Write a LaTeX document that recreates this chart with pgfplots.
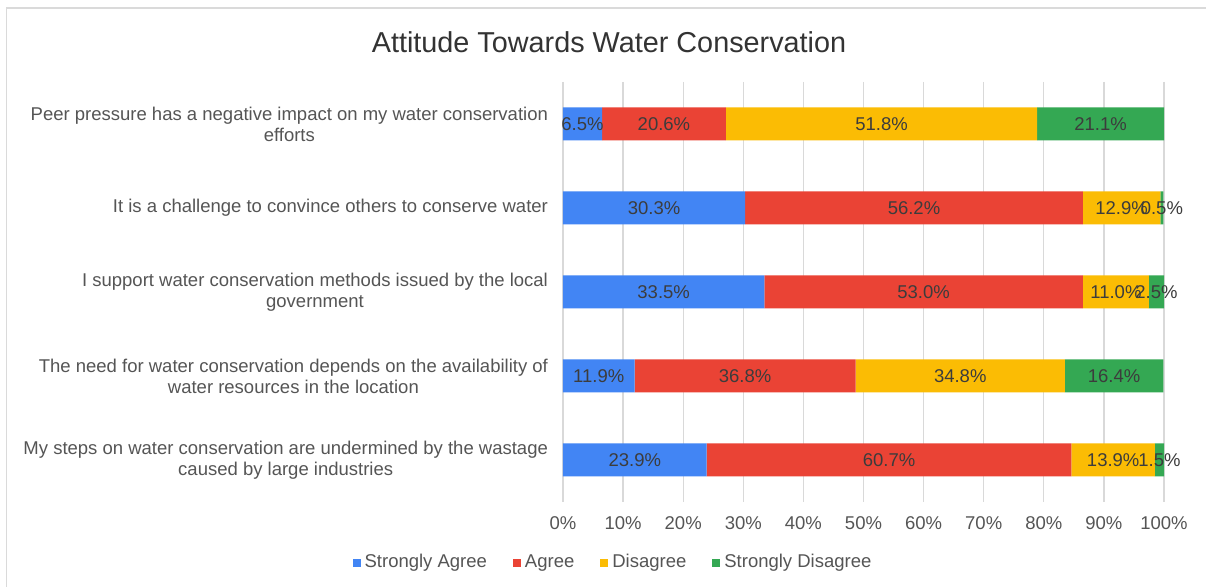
\documentclass[border=0pt]{standalone}
\usepackage{pgfplots}
\pgfplotsset{compat=1.18}
\usepackage{fontspec}
\setmainfont{Liberation Sans}
\definecolor{cSA}{HTML}{4285F4}
\definecolor{cA}{HTML}{EA4335}
\definecolor{cD}{HTML}{FBBC04}
\definecolor{cSD}{HTML}{34A853}
\definecolor{gridc}{HTML}{D9D9D9}
\definecolor{framec}{HTML}{DADADA}
\definecolor{titlec}{HTML}{333333}
\definecolor{labc}{HTML}{555555}
\definecolor{valc}{HTML}{3C3C3C}
\begin{document}
\begin{tikzpicture}
\useasboundingbox (0,0) rectangle (603pt,293.5pt);
\fill[white] (0,0) rectangle (603pt,293.5pt);
\draw[framec, line width=0.75pt] (3.2pt,0) -- (3.2pt,289.5pt) -- (603pt,289.5pt);
\node[font=\fontsize{14.4pt}{17pt}\selectfont, text=titlec] at (304.5pt,272.5pt) {Attitude Towards Water Conservation};
\begin{axis}[
  at={(281.5pt,42.5pt)}, anchor=south west,
  width=300.5pt, height=210pt, scale only axis,
  xbar stacked, bar width=16.5pt,
  xmin=0, xmax=100, ymin=-0.5, ymax=4.5, y dir=reverse,
  ytick={0,1,2,3,4},
  yticklabels={{Peer pressure has a negative impact on my water conservation\\efforts},
    {It is a challenge to convince others to conserve water},
    {I support water conservation methods issued by the local\\government},
    {The need for water conservation depends on the availability of\\water resources in the location},
    {My steps on water conservation are undermined by the wastage\\caused by large industries}},
  yticklabel style={align=center, font=\fontsize{9.25pt}{10.5pt}\selectfont, text=labc, xshift=-4pt},
  xtick={0,10,...,100},
  xticklabels={0\%,10\%,20\%,30\%,40\%,50\%,60\%,70\%,80\%,90\%,100\%},
  xticklabel style={font=\fontsize{9.25pt}{11pt}\selectfont, text=labc, yshift=-4pt},
  major tick length=0pt,
  axis line style={draw=none},
  xmajorgrids, major grid style={gridc, line width=0.6pt},
  point meta=rawx,
  /pgf/number format/assume math mode=true,
  nodes near coords={\pgfmathprintnumber[fixed,fixed zerofill,precision=1]{\pgfplotspointmeta}\%},
  nodes near coords align={anchor=center},
  every node near coord/.append style={anchor=center, font=\fontsize{9.25pt}{11pt}\selectfont, text=valc, inner sep=0pt},
  legend columns=4,
  legend style={draw=none, fill=none, at={(0.0849,-0.145)}, anchor=center,
    font=\fontsize{9.25pt}{11pt}\selectfont, text=labc,
    nodes={text height=0.72em, text depth=0.22em},
    /tikz/every even column/.append style={column sep=11pt},
    inner sep=0pt},
  legend image code/.code={\fill[#1] (0pt,-2pt) rectangle (4pt,2pt);},
]
\addplot[fill=cSA, draw=none] coordinates {(6.5,0) (30.3,1) (33.5,2) (11.9,3) (23.9,4)};
\addplot[fill=cA, draw=none] coordinates {(20.6,0) (56.2,1) (53.0,2) (36.8,3) (60.7,4)};
\addplot[fill=cD, draw=none] coordinates {(51.8,0) (12.9,1) (11.0,2) (34.8,3) (13.9,4)};
\addplot[fill=cSD, draw=none] coordinates {(21.1,0) (0.5,1) (2.5,2) (16.4,3) (1.5,4)};
\legend{Strongly Agree, Agree, Disagree, Strongly Disagree}
\end{axis}
\end{tikzpicture}
\end{document}
